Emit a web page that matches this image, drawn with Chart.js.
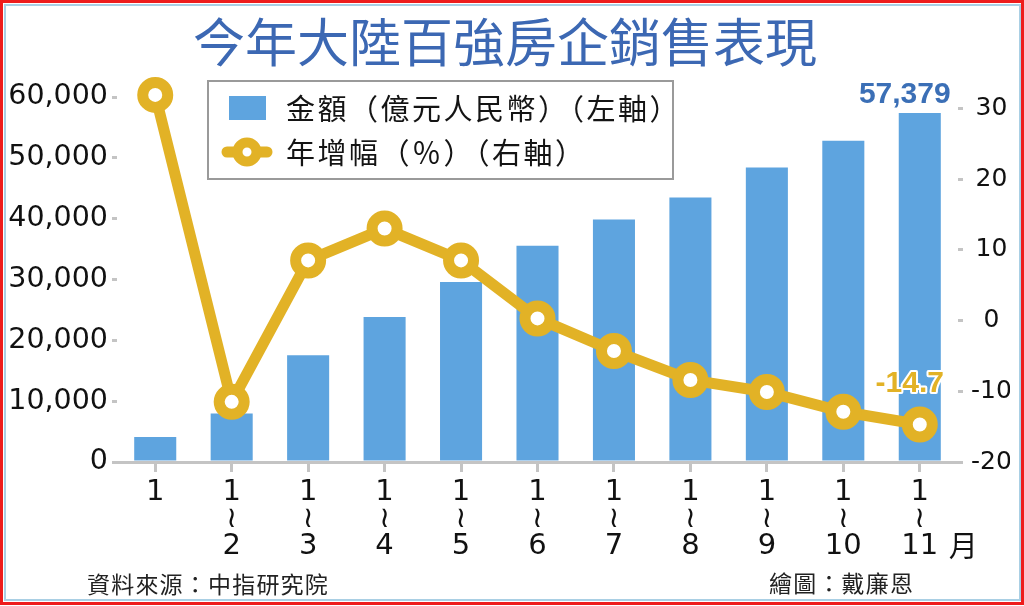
<!DOCTYPE html>
<html>
<head>
<meta charset="utf-8">
<script src="https://cdn.jsdelivr.net/npm/chart.js@4.4.1/dist/chart.umd.min.js"></script>
<style>
  html, body { margin: 0; padding: 0; background: #fff; }
  canvas { display: block; }
</style>
</head>
<body>
<canvas id="c" width="1024" height="606"></canvas>
<script>
// ---- data ----
const titleText = '今年大陸百強房企銷售表現';
const categories = ['1', '1~2', '1~3', '1~4', '1~5', '1~6', '1~7', '1~8', '1~9', '1~10', '1~11'];
const amountValues = [4110, 7960, 17550, 23850, 29600, 35530, 39870, 43490, 48420, 52800, 57379];
const growthValues = [31.9, -11.5, 8.5, 13.0, 8.5, 0.3, -4.3, -8.4, -10.1, -12.9, -14.7];
const leftTicks = [0, 10000, 20000, 30000, 40000, 50000, 60000];
const rightTicks = [-20, -10, 0, 10, 20, 30];
const amountLabel = '金額（億元人民幣）（左軸）';
const growthLabel = '年增幅（％）（右軸）';
const unitLabel = '月';
const sourceText = '資料來源：中指研究院';
const creditText = '繪圖：戴廉恩';

const BAR = '#5ea4df';
const GOLD = '#e2b226';
const CJK = "'Noto Sans CJK TC', 'Noto Sans CJK SC', sans-serif";
const NUM = "'DejaVu Sans', sans-serif";

const decor = {
  id: 'decor',
  beforeDraw(chart) {
    const ctx = chart.ctx;
    ctx.save();
    ctx.fillStyle = '#fff';
    ctx.fillRect(0, 0, chart.width, chart.height);
    ctx.strokeStyle = '#ee1c1c';
    ctx.lineWidth = 3;
    ctx.strokeRect(1.5, 1.5, chart.width - 3, chart.height - 4);
    ctx.strokeStyle = '#a9cfe4';
    ctx.lineWidth = 2;
    ctx.strokeRect(5, 5, chart.width - 9, chart.height - 11);
    ctx.restore();
  },
  afterDraw(chart) {
    const ctx = chart.ctx;
    ctx.save();
    // legend box
    ctx.strokeStyle = '#9a9a9a';
    ctx.lineWidth = 2;
    ctx.strokeRect(208, 81, 465, 98);
    ctx.fillStyle = BAR;
    ctx.fillRect(229, 96, 37, 24);
    ctx.strokeStyle = GOLD;
    ctx.lineWidth = 11;
    ctx.lineCap = 'round';
    ctx.beginPath(); ctx.moveTo(227, 152); ctx.lineTo(267, 152); ctx.stroke();
    ctx.beginPath(); ctx.arc(247, 152, 9.5, 0, Math.PI * 2);
    ctx.fillStyle = '#fff'; ctx.fill();
    ctx.lineWidth = 10; ctx.stroke();
    ctx.fillStyle = '#141414';
    ctx.font = '29px ' + CJK;
    ctx.letterSpacing = '2.5px';
    ctx.textBaseline = 'middle';
    ctx.textAlign = 'left';
    ctx.fillText(amountLabel, 286, 109);
    ctx.fillText(growthLabel, 286, 153);
    // footer
    ctx.font = '23px ' + CJK;
    ctx.letterSpacing = '1.2px';
    ctx.fillStyle = '#222';
    ctx.fillText(sourceText, 87, 584);
    ctx.fillText(creditText, 769, 583);
    ctx.letterSpacing = '0px';
    // unit
    const xs = chart.scales.x;
    ctx.font = '29px ' + CJK;
    ctx.fillStyle = '#111';
    ctx.fillText(unitLabel, xs.getPixelForValue(categories.length - 1) + 29, 546);
    // value labels
    const bm = chart.getDatasetMeta(0).data;
    const lm = chart.getDatasetMeta(1).data;
    const lastB = bm[bm.length - 1];
    const lastL = lm[lm.length - 1];
    ctx.textAlign = 'center';
    ctx.font = 'bold 30px "Liberation Sans", Arial, sans-serif';
    ctx.fillStyle = '#3b6fb6';
    ctx.fillText(amountValues[amountValues.length - 1].toLocaleString('en-US'), lastB.x - 15, lastB.y - 18);
    ctx.lineJoin = 'round';
    ctx.strokeStyle = '#fff';
    ctx.lineWidth = 4;
    const gt = growthValues[growthValues.length - 1].toFixed(1);
    ctx.strokeText(gt, lastL.x - 10, lastL.y - 41);
    ctx.fillStyle = GOLD;
    ctx.fillText(gt, lastL.x - 10, lastL.y - 41);
    ctx.restore();
  }
};

const gridTick = (len) => ({
  display: true, drawOnChartArea: false, drawTicks: true,
  tickLength: len, color: '#c4c4c4', lineWidth: 3
});

new Chart(document.getElementById('c'), {
  data: {
    labels: categories,
    datasets: [
      {
        type: 'bar', label: amountLabel, data: amountValues, yAxisID: 'y',
        backgroundColor: BAR, borderWidth: 0,
        categoryPercentage: 1.0, barPercentage: 0.55, order: 2
      },
      {
        type: 'line', label: growthLabel, data: growthValues, yAxisID: 'y1',
        borderColor: GOLD, borderWidth: 11, tension: 0,
        pointRadius: 12.5, pointBorderWidth: 11,
        pointBackgroundColor: '#fff', pointBorderColor: GOLD,
        clip: false, order: 1
      }
    ]
  },
  options: {
    responsive: false,
    animation: false,
    devicePixelRatio: 1,
    layout: { padding: { left: 0, right: 14, top: 0, bottom: 0 } },
    plugins: {
      legend: { display: false },
      tooltip: { enabled: false },
      title: {
        display: true, text: titleText, color: '#3c68b3',
        font: { family: CJK, size: 52, weight: 'normal', lineHeight: 1.2 },
        padding: { top: 11, bottom: 23.6 }
      }
    },
    scales: {
      x: {
        type: 'category', offset: true,
        grid: Object.assign(gridTick(10), { offset: false }),
        border: { display: true, color: '#c4c4c4', width: 3 },
        ticks: {
          color: '#111', padding: 7, maxRotation: 0, autoSkip: false,
          font: { family: NUM, size: 29, lineHeight: 0.93 },
          callback: (v, i) => categories[i].split('~').reduce((a, s, k) => k ? a.concat(['≀', s]) : [s], [])
        },
        afterFit: (s) => { s.height = 144; }
      },
      y: {
        position: 'left', min: 0, max: 60000,
        grid: gridTick(5), border: { display: false },
        afterBuildTicks: (a) => { a.ticks = leftTicks.map(v => ({ value: v })); },
        ticks: {
          color: '#111', padding: 4,
          font: { family: NUM, size: 28.5 },
          callback: (v) => Number(v).toLocaleString('en-US')
        },
        afterFit: (s) => { s.width = 117; }
      },
      y1: {
        position: 'right', min: -20, max: 31.6,
        grid: gridTick(5), border: { display: false },
        afterBuildTicks: (a) => { a.ticks = rightTicks.map(v => ({ value: v })); },
        ticks: {
          color: '#111', padding: 8, crossAlign: 'center',
          font: { family: NUM, size: 25 }
        },
        afterFit: (s) => { s.width = 52; }
      }
    }
  },
  plugins: [decor]
});
</script>
</body>
</html>
